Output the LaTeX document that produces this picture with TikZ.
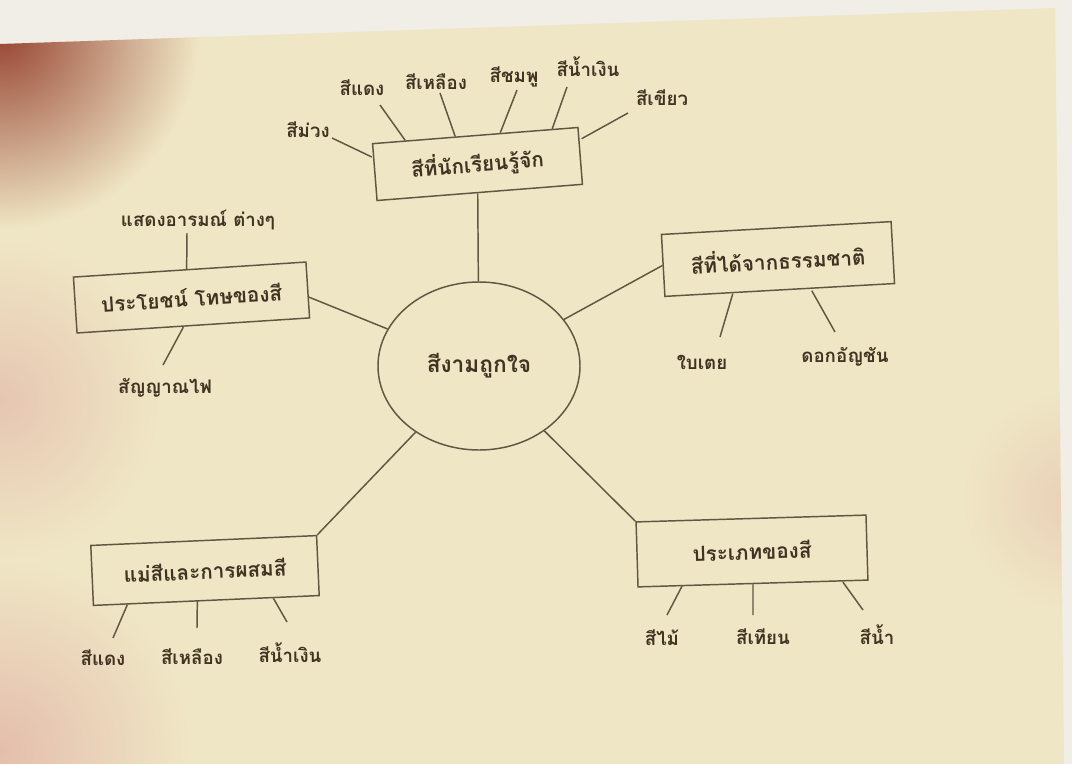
\documentclass[tikz,border=0pt]{standalone}
\usepackage{fontspec}
\newfontfamily\thaifont[Script=Thai]{Loma}
\usetikzlibrary{shapes.geometric}
\definecolor{desk}{RGB}{240,238,230}
\definecolor{paper}{RGB}{239,230,197}
\definecolor{stain}{RGB}{150,66,48}
\definecolor{blush}{RGB}{228,190,172}
\definecolor{ink}{RGB}{96,86,66}
\definecolor{pen}{RGB}{66,50,34}
\tikzset{
    box/.style = {draw = ink, line width = 1.1pt, rectangle, text = pen,
        font = \thaifont\bfseries\fontsize{15.5}{18}\selectfont},
    hub/.style = {draw = ink, line width = 1.1pt, ellipse, text = pen,
        minimum width = 151.5pt, minimum height = 126pt,
        font = \thaifont\bfseries\fontsize{17}{19}\selectfont},
    leaf/.style = {text = pen, inner sep = 1pt,
        font = \thaifont\bfseries\fontsize{14}{16}\selectfont},
    link/.style = {draw = ink, line width = 1.1pt}
}
\begin{document}
\begin{tikzpicture}[x = 0.75pt, y = -0.75pt]
    \useasboundingbox (0, 0) rectangle (1072, 764);
    \fill[desk] (0, 0) rectangle (1072, 764);
    \fill[paper] (0, 44) -- (1055, 8) -- (1064, 764) -- (0, 764) -- cycle;
    \begin{scope}
        \clip (0, 44) -- (1055, 8) -- (1064, 764) -- (0, 764) -- cycle;
        \shade[inner color = blush!80!paper, outer color = paper] (0, 400) circle (160);
        \shade[inner color = blush, outer color = paper] (0, 750) circle (190);
        \shade[inner color = blush!55!paper, outer color = paper] (1072, 500) circle (110);
        \shade[inner color = stain, outer color = paper] (0, 30) circle (200);
    \end{scope}

    \node[hub] (centre) at (479, 366) {สีงามถูกใจ};

    \node[box, rotate = 4.5, minimum width = 154.5pt, minimum height = 42.75pt] (top) at (477.5, 164) {สีที่นักเรียนรู้จัก};
    \node[box, rotate = 3.2, minimum width = 172.5pt, minimum height = 46.5pt] (right) at (778, 259) {สีที่ได้จากธรรมชาติ};
    \node[box, rotate = 3.7, minimum width = 174.75pt, minimum height = 42pt] (left) at (191.5, 297.5) {ประโยชน์ โทษของสี};
    \node[box, rotate = 2.5, minimum width = 169.5pt, minimum height = 45pt] (mix) at (205, 570.5) {แม่สีและการผสมสี};
    \node[box, rotate = 1.7, minimum width = 172.5pt, minimum height = 48.75pt] (kind) at (752, 551) {ประเภทของสี};

    \node[leaf] (purple) at (308, 130) {สีม่วง};
    \node[leaf] (red) at (362, 88) {สีแดง};
    \node[leaf] (yellow) at (436, 82) {สีเหลือง};
    \node[leaf] (pink) at (514, 77) {สีชมพู};
    \node[leaf] (blue) at (588, 67) {สีน้ำเงิน};
    \node[leaf] (green) at (662, 98) {สีเขียว};

    \node[leaf] (pandan) at (702, 362) {ใบเตย};
    \node[leaf] (pea) at (845, 357) {ดอกอัญชัน};

    \node[leaf] (mood) at (198, 220) {แสดงอารมณ์ ต่างๆ};
    \node[leaf] (signal) at (165, 388) {สัญญาณไฟ};

    \node[leaf] (mred) at (103, 658) {สีแดง};
    \node[leaf] (myellow) at (192, 657) {สีเหลือง};
    \node[leaf] (mblue) at (290, 653) {สีน้ำเงิน};

    \node[leaf] (pencil) at (662, 638) {สีไม้};
    \node[leaf] (crayon) at (763, 637) {สีเทียน};
    \node[leaf] (water) at (877, 635) {สีน้ำ};

    \draw[link] (top) -- (centre);
    \draw[link] (centre) -- (right.west);
    \draw[link] ([shift={(0, 7)}]left.east) -- (centre);
    \draw[link] (centre) -- (mix.north east);
    \draw[link] (centre) -- (kind.north west);

    \draw[link] ([shift={(24, 8)}]purple.center) -- ([shift={(0, 14)}]top.north west);
    \draw[link] ([shift={(18, 17)}]red.center) -- ([shift={(-70, 5.5)}]top.north);
    \draw[link] ([shift={(4, 11)}]yellow.center) -- ([shift={(-20, 1.6)}]top.north);
    \draw[link] ([shift={(3, 13)}]pink.center) -- ([shift={(25, -2)}]top.north);
    \draw[link] ([shift={(-21, 20)}]blue.center) -- ([shift={(77, -6)}]top.north);
    \draw[link] ([shift={(-34, 15)}]green.center) -- ([shift={(3, 12)}]top.north east);

    \draw[link] ([shift={(18, -25)}]pandan.center) -- ([shift={(-47, 3)}]right.south);
    \draw[link] ([shift={(-10, -25)}]pea.center) -- ([shift={(32, 0)}]right.south);

    \draw[link] ([shift={(-11, 13)}]mood.center) -- ([shift={(-3, 0)}]left.north);
    \draw[link] ([shift={(-2, -23)}]signal.center) -- ([shift={(-10, 1)}]left.south);

    \draw[link] ([shift={(10, -20)}]mred.center) -- ([shift={(-79, 3.5)}]mix.south);
    \draw[link] ([shift={(5, -29)}]myellow.center) -- ([shift={(-9, 0)}]mix.south);
    \draw[link] ([shift={(-3, -31)}]mblue.center) -- ([shift={(67, -3)}]mix.south);

    \draw[link] ([shift={(5, -23)}]pencil.center) -- ([shift={(-71, 2)}]kind.south);
    \draw[link] ([shift={(-10, -22)}]crayon.center) -- (kind.south);
    \draw[link] ([shift={(-14, -25)}]water.center) -- ([shift={(90, -2)}]kind.south);
\end{tikzpicture}
\end{document}
